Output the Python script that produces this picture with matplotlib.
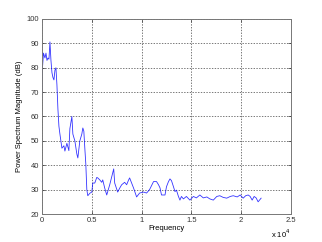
import matplotlib
matplotlib.use("Agg")
import matplotlib.pyplot as plt
from matplotlib.ticker import FuncFormatter

# spectrum (Hz, dB)
freq = [0, 50, 150, 300, 400, 500, 600, 700, 800, 900, 1000, 1100, 1200, 1300, 1400,
        1500, 1600, 1700, 1800, 2000, 2200, 2300, 2500, 2700, 2800, 3000, 3100, 3300,
        3500, 3600, 3800, 4000, 4100, 4200, 4300, 4400, 4500, 4600, 4800, 5000, 5100,
        5300, 5500, 5600, 5800, 6000, 6100, 6300, 6500, 6800, 7200, 7300, 7600, 7800,
        8000, 8300, 8500, 8700, 8800, 9000, 9200, 9500, 9800, 10200, 10500, 10800,
        11200, 11500, 11700, 11850, 12000, 12350, 12500, 12700, 12850, 13000, 13200,
        13350, 13500, 13700, 13850, 14000, 14200, 14500, 14850, 15200, 15500, 15850,
        16200, 16550, 16850, 17200, 17550, 17850, 18200, 18550, 18900, 19200, 19600,
        19900, 20200, 20450, 20700, 20900, 21100, 21300, 21500, 21700, 21900, 22000]
mag_db = [67.6, 80, 86, 84, 86, 83, 84, 83.5, 90.6, 83, 78, 76, 75, 79, 80,
          73, 63, 56, 52.8, 47, 48, 45.8, 49, 46, 55, 60, 52.8, 50,
          44.6, 43, 50, 52.8, 55.3, 54, 47, 40.5, 30, 27.5, 28.5, 29, 32.7,
          32.7, 35, 34.8, 34, 33, 34, 30.6, 27.8, 32, 38.5, 32.7, 29, 30.6,
          32, 33, 32, 34, 34.8, 32.7, 30.6, 27, 28.6, 29, 28.6, 30,
          33.3, 33.3, 32, 30.7, 27.8, 27.8, 31.2, 33.3, 34.4, 33.7, 31.2,
          29.2, 29.8, 27.2, 25.7, 27.2, 26.2, 27.2, 25.7, 27.2, 26.6, 27.8,
          26.6, 27, 26.2, 25.7, 27.2, 27.5, 26.8, 26.5, 27.2, 27.5, 27,
          27.8, 26.5, 27.5, 27.8, 27.2, 25.7, 27.2, 26.6, 25, 26, 26.5]

xticks = [0, 5000, 10000, 15000, 20000, 25000]
yticks = [20, 30, 40, 50, 60, 70, 80, 90, 100]

plt.rcParams["font.family"] = ["Liberation Sans", "DejaVu Sans"]
plt.rcParams["font.size"] = 5.5

fig = plt.figure(figsize=(3.22, 2.42), dpi=100)
ax = fig.add_axes([0.1304, 0.1157, 0.7733, 0.8058])

ax.plot(freq, mag_db, color="#0000ff", lw=0.6, alpha=0.8)

ax.set_xlim(0, 25000)
ax.set_ylim(20, 100)
ax.set_xticks(xticks)
ax.set_yticks(yticks)
ax.xaxis.set_major_formatter(FuncFormatter(lambda v, p: f"{v / 1e4:g}"))
ax.grid(True, color="#444444", linestyle=(0, (2, 2)), lw=0.5)
ax.tick_params(direction="in", length=2, width=0.5, colors="#333333", pad=2,
               top=True, right=True)
for s in ax.spines.values():
    s.set_color("#777777")
    s.set_linewidth(0.7)

ax.set_xlabel("Frequency", labelpad=1)
ax.set_ylabel("Power Spectrum Magnitude (dB)", labelpad=3)
ax.text(0.96, -0.125, r"x 10$^4$", transform=ax.transAxes, ha="center",
        va="baseline", fontsize=5.5)

fig.savefig("out.png", dpi=100)
